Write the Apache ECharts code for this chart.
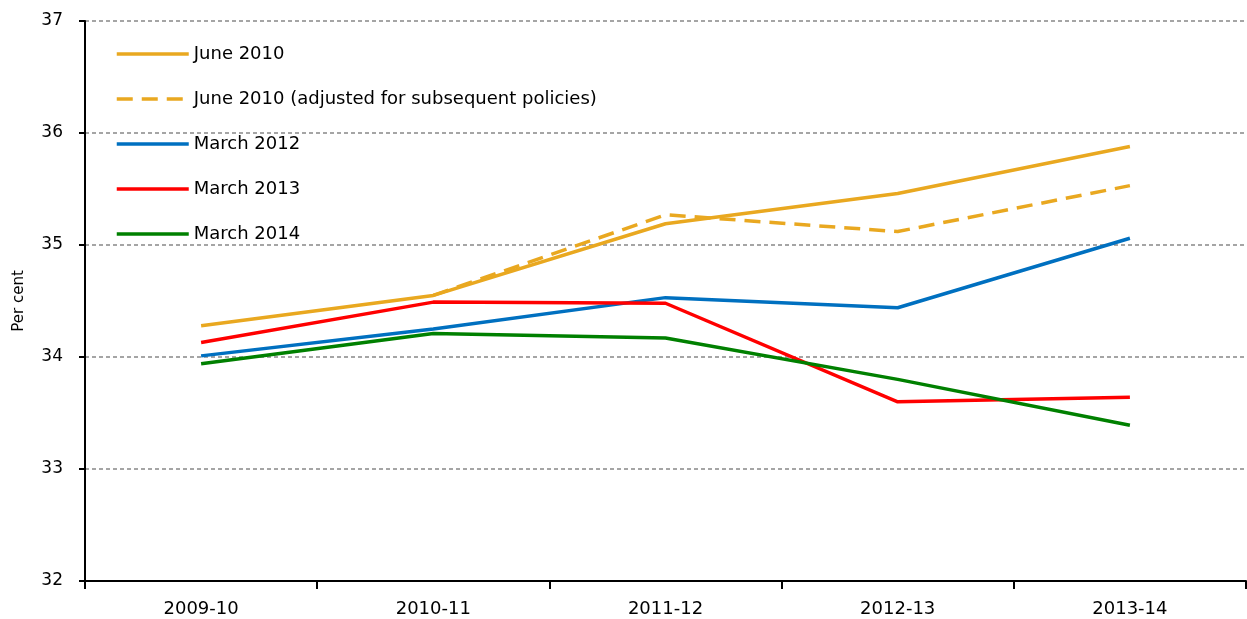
<!DOCTYPE html>
<html lang="en">
<head>
    <meta charset="UTF-8">
    <title>Receipts forecasts</title>
    <style>
        *{ padding: 0; margin: 0; }
        html, body{ width: 100%; height: 100%; background: #fff; }
        #main{ width: 1247px; height: 619px; }
    </style>
</head>
<body>
<div id="main"></div>
<script src="https://cdn.jsdelivr.net/npm/echarts@6/dist/echarts.min.js"></script>
<script type="text/javascript">
    // categories and series values (per cent)
    var years = ['2009-10', '2010-11', '2011-12', '2012-13', '2013-14'];
    var june2010 = [34.28, 34.55, 35.19, 35.46, 35.88];
    var june2010Adj = [null, 34.55, 35.27, 35.12, 35.53];
    var march2012 = [34.01, 34.25, 34.53, 34.44, 35.06];
    var march2013 = [34.13, 34.49, 34.48, 33.60, 33.64];
    var march2014 = [33.94, 34.21, 34.17, 33.80, 33.39];

    var font = '"DejaVu Sans", sans-serif';
    var orange = '#E9A820';

    function line(name, data, color, dashed) {
        return {
            name: name,
            type: 'line',
            data: data,
            symbol: 'none',
            smooth: false,
            connectNulls: false,
            lineStyle: {
                color: color,
                width: 3.5,
                type: dashed ? [16, 9] : 'solid'
            },
            itemStyle: { color: color }
        };
    }

    var myChart = echarts.init(document.getElementById('main'));
    var option = {
        animation: false,
        backgroundColor: '#fff',
        grid: { left: 85, right: 1, top: 21, bottom: 38 },
        legend: {
            orient: 'vertical',
            left: 110,
            top: 40,
            itemWidth: 72,
            itemHeight: 16,
            itemGap: 27,
            itemStyle: { opacity: 0 },
            lineStyle: { width: 3.5 },
            textStyle: { fontFamily: font, fontSize: 18, color: '#000' },
            data: [
                'June 2010',
                'June 2010 (adjusted for subsequent policies)',
                'March 2012',
                'March 2013',
                'March 2014'
            ]
        },
        xAxis: {
            type: 'category',
            data: years,
            boundaryGap: true,
            axisLine: { lineStyle: { color: '#000', width: 2 } },
            axisTick: { show: true, length: 8, lineStyle: { color: '#000', width: 2 } },
            axisLabel: { fontFamily: font, fontSize: 18, color: '#000', margin: 19 }
        },
        yAxis: {
            type: 'value',
            min: 32,
            max: 37,
            interval: 1,
            name: 'Per cent',
            nameLocation: 'middle',
            nameGap: 58,
            nameTextStyle: { fontFamily: font, fontSize: 15, color: '#000' },
            axisLine: { show: true, lineStyle: { color: '#000', width: 2 } },
            axisTick: { show: true, length: 6, lineStyle: { color: '#000', width: 2 } },
            axisLabel: { fontFamily: font, fontSize: 17, color: '#000', margin: 22 },
            splitLine: { lineStyle: { color: '#888', type: [4, 3], width: 1.5 } }
        },
        series: [
            line('June 2010', june2010, orange, false),
            line('June 2010 (adjusted for subsequent policies)', june2010Adj, orange, true),
            line('March 2012', march2012, '#0070C0', false),
            line('March 2013', march2013, '#FF0000', false),
            line('March 2014', march2014, '#008000', false)
        ]
    };
    myChart.setOption(option);
</script>
</body>
</html>
